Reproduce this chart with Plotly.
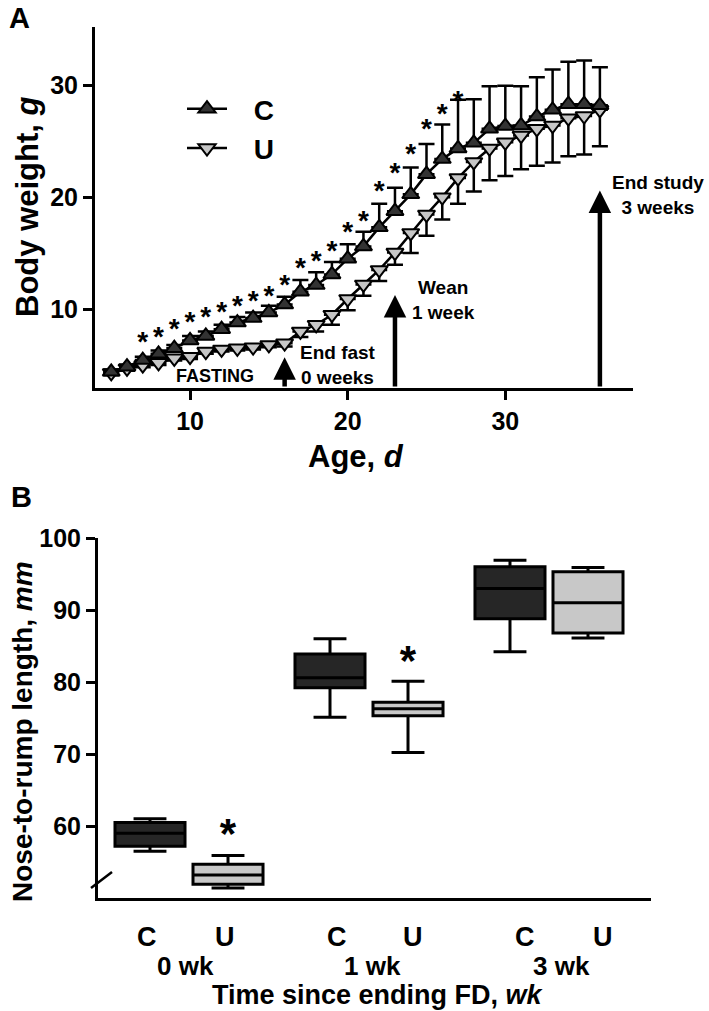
import plotly.graph_objects as go

# ---------------- Panel A data ----------------
days = list(range(5, 37))
c_mean = [4.4, 4.85, 5.45, 6.0, 6.5, 7.2, 7.6, 8.2, 8.8, 9.2, 9.7, 10.4, 11.55, 12.15, 13.1, 14.5,
          15.6, 17.3, 18.75, 20.25, 22.05, 23.4, 24.35, 24.85, 26.1, 26.35, 26.4, 27.2, 27.8, 28.3, 28.3, 28.2]
c_sem = [0.2, 0.2, 0.3, 0.3, 0.3, 0.4, 0.4, 0.4, 0.5, 0.5, 0.6, 0.7, 1.05, 1.15, 1.1, 1.3,
         1.3, 2.1, 2.1, 2.4, 2.7, 3.1, 4.35, 3.9, 3.8, 3.6, 3.5, 3.5, 3.6, 3.8, 3.9, 3.4]
u_mean = [4.3, 4.7, 5.0, 5.2, 5.6, 5.75, 6.2, 6.4, 6.5, 6.6, 6.8, 6.95, 8.0, 8.6, 9.5, 10.9,
          12.2, 13.5, 15.05, 16.8, 18.45, 20.0, 21.7, 23.15, 24.35, 24.9, 25.5, 26.1, 26.4, 27.05, 27.25, 27.8]
u_sem = [0.2, 0.2, 0.2, 0.2, 0.2, 0.2, 0.2, 0.2, 0.2, 0.2, 0.2, 0.3, 0.5, 0.6, 0.9, 1.0,
         1.0, 1.0, 1.1, 1.8, 1.9, 2.0, 2.3, 2.65, 2.85, 3.0, 3.0, 3.3, 3.3, 3.4, 3.45, 3.25]
sig_days = list(range(7, 28))
sig_y = [7.4, 7.9, 8.6, 9.2, 9.7, 10.15, 10.65, 11.1, 11.5, 12.5, 14.0, 14.7, 15.55, 17.3,
         18.25, 20.9, 22.55, 24.2, 26.5, 27.8, 29.0]
event_days = [16, 23, 36]
event_tops = [5.7, 11.25, 20.6]
event_labels = ["End fast<br>0 weeks", "Wean<br>1 week", "End study<br>3 weeks"]

# ---------------- Panel B data ----------------
groups = ["0 wk", "1 wk", "3 wk"]
diets = ["C", "U"]
c_box = {  # lower whisker, q1, median, q3, upper whisker
    "low": [56.5, 75.1, 84.2], "q1": [57.2, 79.2, 88.8], "med": [59.0, 80.6, 93.0],
    "q3": [60.5, 83.9, 96.0], "high": [61.0, 86.0, 96.9]}
u_box = {
    "low": [51.4, 70.2, 86.1], "q1": [51.9, 75.3, 86.8], "med": [53.2, 76.3, 91.0],
    "q3": [54.7, 77.2, 95.3], "high": [55.9, 80.1, 95.9]}
sigB_groups = [0, 1]
sigB_y = [59.6, 83.6]

W, H = 709, 1011
def fx(p):
    return p / W
def fy(p):
    return 1 - p / H

FONT = "Liberation Sans, Arial, sans-serif"

fig = go.Figure()

# Panel A traces
fig.add_trace(go.Scatter(
    x=days, y=u_mean, name="\u2002\u00a0U", mode="lines+markers",
    line=dict(color="black", width=2.5),
    marker=dict(symbol="triangle-down", size=15, color="#c6c6c6", line=dict(color="black", width=2)),
    error_y=dict(type="data", symmetric=False, array=[0] * len(u_sem), arrayminus=u_sem,
                 color="black", thickness=2.5, width=8),
    xaxis="x", yaxis="y", legendrank=2))
fig.add_trace(go.Scatter(
    x=days, y=c_mean, name="\u2002\u00a0C", mode="lines+markers",
    line=dict(color="black", width=2.5),
    marker=dict(symbol="triangle-up", size=15, color="#333333", line=dict(color="black", width=2)),
    error_y=dict(type="data", symmetric=False, array=c_sem, arrayminus=[0] * len(c_sem),
                 color="black", thickness=2.5, width=8),
    xaxis="x", yaxis="y", legendrank=1))
fig.add_trace(go.Scatter(
    x=sig_days, y=[v - 0.55 for v in sig_y], mode="text", text=["*"] * len(sig_days),
    textfont=dict(size=28, family=FONT, color="black", weight="bold"), showlegend=False,
    hoverinfo="skip", xaxis="x", yaxis="y"))

# Panel B boxes
off = 0.2167
for gi in range(3):
    for di, (box, fill) in enumerate([(c_box, "#262626"), (u_box, "#c8c8c8")]):
        pos = gi + (-off if di == 0 else off)
        fig.add_trace(go.Box(
            x=[pos], q1=[box["q1"][gi]], median=[box["med"][gi]], q3=[box["q3"][gi]],
            lowerfence=[box["low"][gi]], upperfence=[box["high"][gi]],
            width=0.389, whiskerwidth=0.47, fillcolor=fill,
            line=dict(color="black", width=3), boxpoints=False, showlegend=False,
            hoverinfo="skip", xaxis="x2", yaxis="y2"))
fig.add_trace(go.Scatter(
    x=[g + off for g in sigB_groups], y=[v - 1.2 for v in sigB_y], mode="text",
    text=["*"] * len(sigB_groups), textfont=dict(size=42, family=FONT, color="black"),
    showlegend=False, hoverinfo="skip", xaxis="x2", yaxis="y2"))

axis_common = dict(showline=True, linecolor="black", linewidth=3, ticks="outside",
                   ticklen=9, tickwidth=3, tickcolor="black", showgrid=False, zeroline=False)

fig.update_layout(
    width=W, height=H, margin=dict(l=0, r=0, t=0, b=0, autoexpand=False),
    paper_bgcolor="white", plot_bgcolor="white",
    font=dict(family=FONT, color="black", weight="bold"),
    xaxis=dict(domain=[fx(95), fx(633)], range=[3.97, 38.1], tickvals=[10, 20, 30],
               tickfont=dict(size=25), anchor="y", **axis_common),
    yaxis=dict(domain=[fy(388), fy(27)], range=[2.95, 35.2], tickvals=[10, 20, 30],
               tickfont=dict(size=25), anchor="x", **axis_common),
    xaxis2=dict(domain=[fx(98), fx(651)], range=[-0.5056, 2.5667], showline=True,
                linecolor="black", linewidth=3, showticklabels=False, ticks="",
                showgrid=False, zeroline=False, anchor="y2"),
    yaxis2=dict(domain=[fy(898), fy(538)], range=[50, 100], tickvals=[60, 70, 80, 90, 100],
                tickfont=dict(size=25), anchor="x2", **axis_common),
    showlegend=True,
    legend=dict(x=fx(182), y=fy(84), xanchor="left", yanchor="top", bgcolor="rgba(0,0,0,0)",
                font=dict(size=28, family=FONT, weight="bold"), itemwidth=40, tracegroupgap=0),
)

ann = []
# panel letters
ann.append(dict(text="A", x=fx(19), y=fy(18), font=dict(size=29)))
ann.append(dict(text="B", x=fx(21), y=fy(497), font=dict(size=29)))
# Panel A titles
ann.append(dict(text="Body weight, <i>g</i>", x=fx(28), y=fy(207), textangle=-90, font=dict(size=31)))
ann.append(dict(text="Age, <i>d</i>", x=fx(356), y=fy(456), font=dict(size=31)))
# event labels
ann.append(dict(text="FASTING", x=fx(215), y=fy(376), font=dict(size=18)))
label_px = [(338, 365), (443, 300), (658, 195)]
for (lx, ly), t in zip(label_px, event_labels):
    ann.append(dict(text=t, x=fx(lx), y=fy(ly), font=dict(size=19)))
# Panel B titles
ann.append(dict(text="Nose-to-rump length, <i>mm</i>", x=fx(22), y=fy(732), textangle=-90,
                font=dict(size=28)))
ann.append(dict(text="Time since ending FD, <i>wk</i>", x=fx(378), y=fy(995),
                font=dict(size=27)))
for a in ann:
    a.update(xref="paper", yref="paper")

# C / U labels and group labels (data x on panel B axis)
cu_pos = [-0.233, 0.2, 0.822, 1.244, 1.867, 2.3]
for i, p in enumerate(cu_pos):
    ann.append(dict(text=diets[i % 2], x=p, xref="x2", y=fy(937), yref="paper", font=dict(size=27)))
grp_pos = [-0.017, 1.02, 2.07]
for g, p in zip(groups, grp_pos):
    ann.append(dict(text=g, x=p, xref="x2", y=fy(966), yref="paper", font=dict(size=26)))
for a in ann:
    a.update(showarrow=False, xanchor="center", yanchor="middle")

# event arrows (from x-axis up to tip)
for d, top in zip(event_days, event_tops):
    ann.append(dict(x=d, y=top, xref="x", yref="y", ax=d, ay=2.95, axref="x", ayref="y",
                    text="", showarrow=True, arrowhead=2, arrowsize=1.0, arrowwidth=4.5,
                    arrowcolor="black", standoff=0, startstandoff=0))

fig.update_layout(annotations=ann)

# axis break mark on panel B
fig.add_shape(type="line", xref="paper", yref="paper", x0=fx(91), y0=fy(888), x1=fx(112), y1=fy(872),
              line=dict(color="black", width=2.5))

fig.write_html("out.html", config={"displayModeBar": False},
               post_script="document.body.style.margin='0px';document.body.style.overflow='hidden';")
